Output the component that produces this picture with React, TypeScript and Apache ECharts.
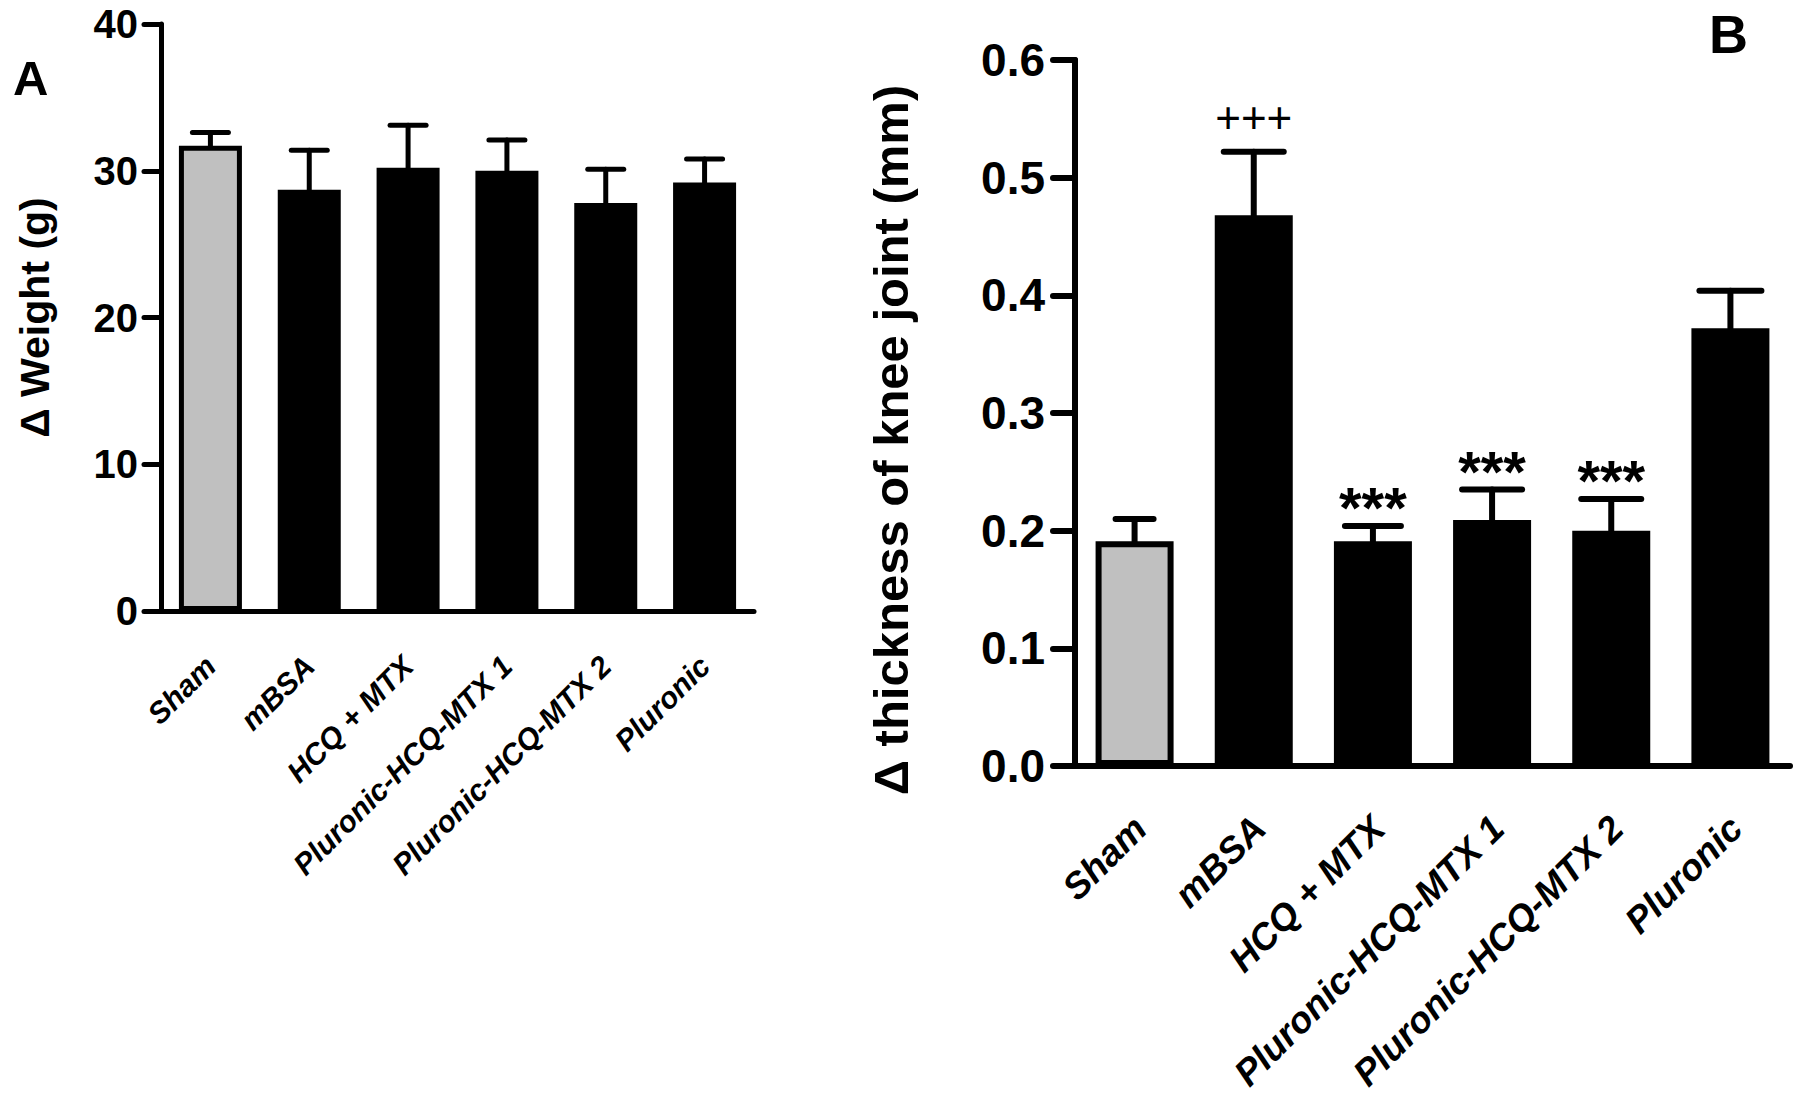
import React, { useEffect, useRef } from "react";
import * as echarts from "echarts";

const categories = [
  "Sham",
  "mBSA",
  "HCQ + MTX",
  "Pluronic-HCQ-MTX 1",
  "Pluronic-HCQ-MTX 2",
  "Pluronic",
];

// Panel A: Δ Weight (g)
const weightMean = [31.7, 28.7, 30.2, 30.0, 27.8, 29.2];
const weightErr = [0.9, 2.7, 2.9, 2.1, 2.3, 1.6];

// Panel B: Δ thickness of knee joint (mm)
const thickMean = [0.191, 0.468, 0.191, 0.209, 0.2, 0.372];
const thickErr = [0.019, 0.054, 0.013, 0.026, 0.027, 0.032];
const thickMarks = ["", "+++", "***", "***", "***", ""];

const weightTicks = { min: 0, max: 40, interval: 10 };
const thickTicks = { min: 0, max: 0.6, interval: 0.1 };

const barColors = ["#c0c0c0", "#000000", "#000000", "#000000", "#000000", "#000000"];

const FONT = "'Liberation Sans', Arial, Helvetica, sans-serif";

export default function App() {
  const ref = useRef<HTMLDivElement | null>(null);

  useEffect(() => {
    if (!ref.current) return;
    const chart = echarts.init(ref.current, undefined, { renderer: "svg" });

    const makeErr = (
      gridIdx: number,
      means: number[],
      errs: number[],
      marks: string[] | null,
      capHalf: number[],
      lw: number
    ) => ({
      type: "custom",
      xAxisIndex: gridIdx,
      yAxisIndex: gridIdx,
      z: 5,
      silent: true,
      data: means.map((m, i) => [i, m, errs[i]]),
      renderItem: (params: any, api: any) => {
        const idx = api.value(0);
        const mean = api.value(1);
        const err = api.value(2);
        const mark = marks ? marks[idx] : "";
        const base = api.coord([idx, mean]);
        const top = api.coord([idx, mean + err]);
        const hw = capHalf[idx];
        const children: any[] = [
          {
            type: "line",
            shape: { x1: top[0], y1: base[1], x2: top[0], y2: top[1] },
            style: { stroke: "#000", lineWidth: lw, lineCap: "round" },
          },
          {
            type: "line",
            shape: { x1: top[0] - hw, y1: top[1], x2: top[0] + hw, y2: top[1] },
            style: { stroke: "#000", lineWidth: lw, lineCap: "round" },
          },
        ];
        if (mark) {
          const isPlus = mark.indexOf("+") >= 0;
          children.push({
            type: "text",
            style: {
              text: mark,
              x: top[0],
              y: isPlus ? top[1] - 12 : top[1] + 11,
              align: "center",
              verticalAlign: "bottom",
              fontSize: isPlus ? 44 : 58,
              fontFamily: FONT,
              fontWeight: isPlus ? "normal" : "bold",
              fill: "#000",
            },
          });
        }
        return { type: "group", children };
      },
    });

    const option: any = {
      animation: false,
      backgroundColor: "#ffffff",
      grid: [
        { left: 161, top: 24, width: 593, height: 587 },
        { left: 1075, top: 60, width: 715, height: 706 },
      ],
      xAxis: [
        {
          type: "category",
          gridIndex: 0,
          data: categories,
          axisLine: { lineStyle: { color: "#000", width: 5, cap: "round" } },
          axisTick: {
            alignWithLabel: true,
            length: 18,
            lineStyle: { color: "#000", width: 5, cap: "round" },
          },
          axisLabel: {
            rotate: 45,
            interval: 0,
            margin: 50,
            fontSize: 30,
            fontWeight: "bold",
            fontStyle: "italic",
            fontFamily: FONT,
            color: "#000",
          },
        },
        {
          type: "category",
          gridIndex: 1,
          data: categories,
          axisLine: { lineStyle: { color: "#000", width: 6, cap: "round" } },
          axisTick: {
            alignWithLabel: true,
            length: 22,
            lineStyle: { color: "#000", width: 6, cap: "round" },
          },
          axisLabel: {
            rotate: 45,
            interval: 0,
            margin: 62,
            padding: [0, -8, 0, 0],
            fontSize: 37,
            fontWeight: "bold",
            fontStyle: "italic",
            fontFamily: FONT,
            color: "#000",
          },
        },
      ],
      yAxis: [
        {
          type: "value",
          gridIndex: 0,
          min: weightTicks.min,
          max: weightTicks.max,
          interval: weightTicks.interval,
          name: "Δ Weight (g)",
          nameLocation: "middle",
          nameRotate: 90,
          nameGap: 106,
          nameTextStyle: {
            fontSize: 41,
            fontWeight: "bold",
            fontFamily: FONT,
            color: "#000",
          },
          splitLine: { show: false },
          axisLine: { show: true, lineStyle: { color: "#000", width: 5, cap: "round" } },
          axisTick: { show: true, length: 17, lineStyle: { color: "#000", width: 5, cap: "round" } },
          axisLabel: {
            margin: 23,
            fontSize: 40,
            fontWeight: "bold",
            fontFamily: FONT,
            color: "#000",
          },
        },
        {
          type: "value",
          gridIndex: 1,
          min: thickTicks.min,
          max: thickTicks.max,
          interval: thickTicks.interval,
          name: "Δ thickness of knee joint (mm)",
          nameLocation: "middle",
          nameRotate: 90,
          nameGap: 160,
          nameTextStyle: {
            fontSize: 49,
            fontWeight: "bold",
            fontFamily: FONT,
            color: "#000",
            padding: [0, 54, 0, 0],
          },
          splitLine: { show: false },
          axisLine: { show: true, lineStyle: { color: "#000", width: 6, cap: "round" } },
          axisTick: { show: true, length: 22, lineStyle: { color: "#000", width: 6, cap: "round" } },
          axisLabel: {
            margin: 30,
            fontSize: 46,
            fontWeight: "bold",
            fontFamily: FONT,
            color: "#000",
            formatter: (v: number) => v.toFixed(1),
          },
        },
      ],
      series: [
        {
          type: "bar",
          xAxisIndex: 0,
          yAxisIndex: 0,
          barWidth: 63,
          data: weightMean.map((v, i) => ({
            value: v,
            itemStyle: { color: barColors[i] },
          })),
          itemStyle: { borderColor: "#000", borderWidth: 5 },
        },
        makeErr(0, weightMean, weightErr, null, [18, 18, 18, 18, 18, 18], 5),
        {
          type: "bar",
          xAxisIndex: 1,
          yAxisIndex: 1,
          barWidth: 78,
          data: thickMean.map((v, i) => ({
            value: v,
            itemStyle: { color: barColors[i] },
          })),
          itemStyle: { borderColor: "#000", borderWidth: 6 },
        },
        makeErr(1, thickMean, thickErr, thickMarks, [19, 30, 28, 30, 30, 31], 6),
      ],
      graphic: [
        {
          type: "text",
          left: 13,
          top: 53,
          style: { text: "A", fontSize: 49, fontWeight: "bold", fontFamily: FONT, fill: "#000" },
        },
        {
          type: "text",
          left: 1709,
          top: 7,
          style: { text: "B", fontSize: 54, fontWeight: "bold", fontFamily: FONT, fill: "#000" },
        },
      ],
    };

    chart.setOption(option);
    return () => chart.dispose();
  }, []);

  return (
    <div
      ref={ref}
      style={{ position: "fixed", left: 0, top: 0, width: 1800, height: 1106, background: "#fff" }}
    />
  );
}
